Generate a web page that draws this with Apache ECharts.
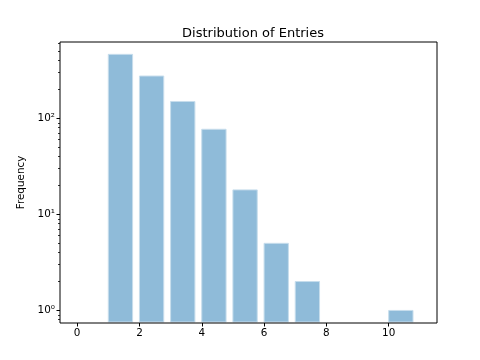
<!DOCTYPE html>
<html><head><meta charset="utf-8">
<script src="https://cdn.jsdelivr.net/npm/echarts@6/dist/echarts.min.js"></script>
<style>html,body{margin:0;padding:0;background:#fff}#c{width:480px;height:360px}</style>
</head><body><div id="c"></div>
<script>
var binStarts = [1, 2, 3, 4, 5, 6, 7, 10];
var counts = [464, 276, 150, 77, 18, 5, 2, 1];
var xTicks = [0, 2, 4, 6, 8, 10];
var yMajor = [1, 10, 100];
var yMinor = [0.8, 0.9, 2, 3, 4, 5, 6, 7, 8, 9, 20, 30, 40, 50, 60, 70, 80, 90, 200, 300, 400, 500, 600];
var barWidthUnits = 0.78;
var yMin = 0.74, yMax = 624;

var chart = echarts.init(document.getElementById('c'), null, {renderer: 'canvas'});
var sup = {'0': '\u2070', '1': '\u00b9', '2': '\u00b2', '3': '\u00b3'};
var data = binStarts.map(function (s, i) { return [s, counts[i]]; });
chart.setOption({
  animation: false,
  backgroundColor: '#fff',
  title: {
    text: 'Distribution of Entries', left: 248, top: 22, textAlign: 'center',
    textStyle: {fontFamily: 'DejaVu Sans', fontSize: 13, fontWeight: 'normal', color: '#000'}
  },
  grid: {left: 60, right: 43, top: 42, bottom: 37, show: true, borderColor: '#000', borderWidth: 1, backgroundColor: 'transparent', z: 5},
  xAxis: {
    type: 'value', min: -0.55, max: 11.55,
    splitLine: {show: false},
    axisLine: {show: false, onZero: false},
    axisTick: {show: true, length: 3.5, lineStyle: {color: '#000'}, customValues: xTicks},
    axisLabel: {customValues: xTicks, fontFamily: 'DejaVu Sans', fontSize: 10.4, color: '#000', margin: 5}
  },
  yAxis: [{
    type: 'log', min: yMin, max: yMax, logBase: 10,
    name: 'Frequency', nameLocation: 'middle', nameGap: 32,
    nameTextStyle: {fontFamily: 'DejaVu Sans', fontSize: 10.4, color: '#000'},
    splitLine: {show: false},
    axisLine: {show: false, onZero: false},
    axisTick: {show: true, length: 3.5, lineStyle: {color: '#000'}, customValues: yMajor},
    axisLabel: {
      customValues: yMajor, fontFamily: 'DejaVu Sans', fontSize: 10.4, color: '#000', margin: 5,
      formatter: function (v) { var e = Math.round(Math.log10(v)); return '10' + sup[String(e)]; }
    }
  }, {
    type: 'log', min: yMin, max: yMax, logBase: 10, position: 'left',
    splitLine: {show: false},
    axisLine: {show: false, onZero: false},
    axisTick: {show: true, length: 2, lineStyle: {color: '#000', width: 0.8}, customValues: yMinor},
    axisLabel: {show: false}
  }],
  series: [{
    type: 'custom',
    data: data,
    encode: {x: 0, y: 1},
    renderItem: function (params, api) {
      var x0 = api.value(0), v = api.value(1);
      var p1 = api.coord([x0, v]);
      var p2 = api.coord([x0 + barWidthUnits, yMin]);
      return {
        type: 'rect',
        shape: {x: p1[0], y: p1[1], width: p2[0] - p1[0], height: p2[1] - p1[1] - 1},
        style: {fill: '#8fbbd9', stroke: '#c7ddec', lineWidth: 1}
      };
    }
  }]
});
</script></body></html>
